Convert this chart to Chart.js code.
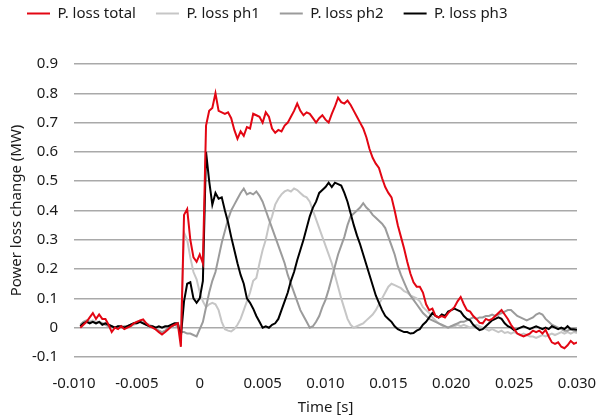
<!DOCTYPE html>
<html>
<head>
<meta charset="utf-8">
<script src="https://cdn.jsdelivr.net/npm/chart.js@4.4.1/dist/chart.umd.min.js"></script>
<style>
  html, body { margin: 0; padding: 0; background: #fff; }
  #wrap { width: 600px; height: 418px; }
</style>
</head>
<body>
<div id="wrap"><canvas id="lossChart" width="600" height="418"></canvas></div>
<script>
// sample grid: 0.25 ms steps from -9.5 ms to 30 ms
var tStart = -0.0095;
var tStep = 0.00025;

var seriesNames = ['P. loss total', 'P. loss ph1', 'P. loss ph2', 'P. loss ph3'];
var xTicks = [-0.010, -0.005, 0, 0.005, 0.010, 0.015, 0.020, 0.025, 0.030];
var yTicks = [-0.1, 0, 0.1, 0.2, 0.3, 0.4, 0.5, 0.6, 0.7, 0.8, 0.9];

// power loss change in MW, one row = 2 ms
var lossTotal = [
  0.00, 0.01, 0.02, 0.035, 0.05, 0.03, 0.045, 0.03,
  0.03, 0.01, -0.015, 0.0, -0.005, 0.005, -0.005, 0.0,
  0.005, 0.015, 0.02, 0.025, 0.028, 0.015, 0.005, 0.0,
  -0.006, -0.015, -0.023, -0.015, -0.005, 0.005, 0.01, 0.015,
  -0.065, 0.385, 0.405, 0.30, 0.24, 0.225, 0.25, 0.22,
  0.69, 0.74, 0.75, 0.80, 0.74, 0.735, 0.73, 0.735,
  0.715, 0.675, 0.645, 0.67, 0.655, 0.685, 0.68, 0.73,
  0.725, 0.72, 0.70, 0.735, 0.72, 0.68, 0.665, 0.675,
  0.67, 0.69, 0.70, 0.72, 0.74, 0.765, 0.74, 0.725,
  0.735, 0.73, 0.715, 0.70, 0.715, 0.725, 0.71, 0.70,
  0.73, 0.755, 0.785, 0.77, 0.765, 0.775, 0.76, 0.74,
  0.72, 0.70, 0.68, 0.65, 0.61, 0.58, 0.56, 0.545,
  0.51, 0.48, 0.46, 0.445, 0.40, 0.35, 0.31, 0.27,
  0.225, 0.185, 0.155, 0.14, 0.14, 0.12, 0.08, 0.06,
  0.065, 0.04, 0.035, 0.04, 0.035, 0.05, 0.06, 0.07,
  0.09, 0.105, 0.08, 0.06, 0.055, 0.04, 0.03, 0.017,
  0.015, 0.03, 0.025, 0.03, 0.04, 0.05, 0.06, 0.045,
  0.03, 0.01, -0.005, -0.02, -0.025, -0.03, -0.025, -0.02,
  -0.01, -0.015, -0.01, -0.02, -0.007, -0.03, -0.05, -0.055,
  -0.05, -0.065, -0.07, -0.06, -0.045, -0.055, -0.05
];

var lossPh1 = [
  0.005, 0.015, 0.02, 0.02, 0.025, 0.02, 0.02, 0.015,
  0.015, 0.01, 0.005, 0.0, 0.0, 0.005, 0.0, 0.005,
  0.005, 0.01, 0.015, 0.02, 0.02, 0.015, 0.01, 0.005,
  -0.005, -0.01, -0.015, -0.01, 0.0, 0.005, 0.01, 0.01,
  0.005, 0.325, 0.30, 0.24, 0.19, 0.165, 0.12, 0.09,
  0.07, 0.08, 0.085, 0.08, 0.06, 0.02, -0.005, -0.01,
  -0.013, -0.005, 0.01, 0.03, 0.06, 0.09, 0.12, 0.16,
  0.17, 0.22, 0.265, 0.30, 0.35, 0.38, 0.42, 0.44,
  0.455, 0.465, 0.47, 0.465, 0.475, 0.47, 0.46, 0.45,
  0.445, 0.43, 0.40, 0.37, 0.34, 0.31, 0.28, 0.25,
  0.22, 0.18, 0.14, 0.10, 0.065, 0.03, 0.01, 0.0,
  0.005, 0.01, 0.015, 0.025, 0.035, 0.045, 0.06, 0.08,
  0.10, 0.12, 0.14, 0.15, 0.145, 0.14, 0.135, 0.125,
  0.12, 0.11, 0.105, 0.10, 0.09, 0.07, 0.06, 0.05,
  0.035, 0.025, 0.015, 0.008, 0.003, 0.0, 0.005, 0.005,
  0.01, 0.005, 0.01, 0.005, 0.0, 0.005, 0.01, 0.005,
  0.0, -0.005, -0.01, -0.005, -0.01, -0.015, -0.01, -0.018,
  -0.015, -0.02, -0.015, -0.02, -0.025, -0.02, -0.025, -0.03,
  -0.03, -0.035, -0.03, -0.025, -0.03, -0.025, -0.02, -0.025,
  -0.02, -0.015, -0.02, -0.015, -0.02, -0.015, -0.018
];

var lossPh2 = [
  0.01, 0.02, 0.025, 0.02, 0.02, 0.015, 0.02, 0.015,
  0.01, 0.005, 0.005, 0.0, 0.005, 0.0, 0.005, 0.005,
  0.01, 0.015, 0.02, 0.02, 0.015, 0.01, 0.005, 0.0,
  -0.005, -0.01, -0.015, -0.01, 0.0, 0.005, 0.01, 0.005,
  -0.015, -0.015, -0.02, -0.02, -0.025, -0.03, -0.005, 0.02,
  0.07, 0.12, 0.16, 0.19, 0.24, 0.29, 0.33, 0.37,
  0.40, 0.42, 0.44, 0.46, 0.475, 0.455, 0.46, 0.455,
  0.465, 0.45, 0.43, 0.40, 0.37, 0.34, 0.31, 0.28,
  0.25, 0.22, 0.18, 0.15, 0.12, 0.09, 0.06, 0.04,
  0.02, 0.0, 0.005, 0.02, 0.04, 0.07, 0.095, 0.13,
  0.17, 0.21, 0.25, 0.28, 0.31, 0.35, 0.38, 0.39,
  0.40, 0.41, 0.425, 0.41, 0.40, 0.385, 0.375, 0.365,
  0.355, 0.34, 0.31, 0.28, 0.25, 0.21, 0.18, 0.155,
  0.13, 0.11, 0.095, 0.08, 0.065, 0.05, 0.04, 0.03,
  0.025, 0.02, 0.015, 0.01, 0.005, 0.0, 0.005, 0.01,
  0.015, 0.02, 0.02, 0.025, 0.03, 0.035, 0.03, 0.035,
  0.035, 0.04, 0.04, 0.045, 0.04, 0.045, 0.05, 0.055,
  0.06, 0.06, 0.05, 0.04, 0.035, 0.03, 0.025, 0.03,
  0.035, 0.045, 0.05, 0.045, 0.03, 0.02, 0.01, 0.005,
  0.0, -0.005, -0.01, -0.01, -0.005, -0.01, -0.012
];

var lossPh3 = [
  0.005, 0.015, 0.02, 0.015, 0.02, 0.015, 0.02, 0.01,
  0.015, 0.01, 0.005, 0.0, 0.005, 0.005, 0.0, 0.005,
  0.01, 0.015, 0.015, 0.02, 0.015, 0.01, 0.005, 0.005,
  0.0, 0.005, 0.0, 0.005, 0.005, 0.01, 0.015, 0.015,
  -0.03, 0.09, 0.15, 0.155, 0.10, 0.085, 0.10, 0.16,
  0.60, 0.50, 0.42, 0.46, 0.44, 0.445, 0.40, 0.36,
  0.31, 0.265, 0.22, 0.18, 0.15, 0.10, 0.085, 0.065,
  0.04, 0.02, 0.0, 0.005, 0.0, 0.01, 0.015, 0.03,
  0.06, 0.09, 0.12, 0.16, 0.19, 0.23, 0.265, 0.30,
  0.34, 0.38, 0.41, 0.43, 0.46, 0.47, 0.48, 0.495,
  0.48, 0.495, 0.49, 0.485, 0.46, 0.43, 0.39, 0.35,
  0.315, 0.285, 0.25, 0.215, 0.18, 0.145, 0.11, 0.085,
  0.06, 0.04, 0.03, 0.02, 0.005, -0.005, -0.01, -0.015,
  -0.015, -0.02, -0.018, -0.01, -0.005, 0.01, 0.02, 0.035,
  0.05, 0.04, 0.035, 0.045, 0.04, 0.055, 0.06, 0.065,
  0.06, 0.055, 0.04, 0.03, 0.025, 0.01, 0.0, -0.008,
  -0.005, 0.005, 0.015, 0.025, 0.03, 0.035, 0.03, 0.015,
  0.005, 0.0, -0.008, -0.005, 0.0, 0.005, 0.0, -0.005,
  0.0, 0.005, 0.0, -0.005, 0.0, -0.005, 0.005, 0.0,
  -0.005, 0.0, -0.005, 0.005, -0.005, -0.005, -0.007
];

var seriesColors = ['#e30613', '#c6c6c6', '#9b9b9b', '#000000'];
// lower order is drawn on top: total over ph3 over ph2 over ph1
var drawOrder = [0, 3, 2, 1];

function toPoints(values) {
  return values.map(function(v, i) {
    return { x: tStart + i * tStep, y: v };
  });
}

function fmt(v, digits) {
  if (Math.abs(v) < 1e-9) return '0';
  return v.toFixed(digits);
}

function makeDataset(i, values) {
  return {
    label: seriesNames[i],
    data: toPoints(values),
    borderColor: seriesColors[i],
    backgroundColor: seriesColors[i],
    pointBorderColor: seriesColors[i],
    pointBackgroundColor: seriesColors[i],
    pointBorderWidth: 2,
    pointRadius: 0,
    borderWidth: 2,
    order: drawOrder[i]
  };
}

var fontFamily = '"Noto Sans", "Open Sans", sans-serif';
var textColor = '#1a1a1a';
var gridColor = '#a9a9a9';

// legend is forced to a fixed band above the plot and nudged into place
var legendBand = {
  id: 'legendBand',
  beforeInit: function(chart) {
    var origFit = chart.legend.fit;
    chart.legend.fit = function() {
      origFit.bind(chart.legend)();
      this.height = 64;
    };
  },
  afterLayout: function(chart) {
    chart.legend.left += 7;
    chart.legend.right += 7;
    chart.legend.top -= 14;
  }
};

var ctx = document.getElementById('lossChart').getContext('2d');
var lossChart = new Chart(ctx, {
  type: 'line',
  data: {
    datasets: [
      makeDataset(0, lossTotal),
      makeDataset(1, lossPh1),
      makeDataset(2, lossPh2),
      makeDataset(3, lossPh3)
    ]
  },
  options: {
    responsive: false,
    animation: false,
    events: [],
    layout: { padding: { left: 0, right: 23, top: 0, bottom: 0 } },
    elements: {
      line: { tension: 0 }
    },
    plugins: {
      tooltip: { enabled: false },
      legend: {
        position: 'top',
        align: 'start',
        labels: {
          usePointStyle: true,
          pointStyle: 'line',
          pointStyleWidth: 23,
          padding: 20,
          color: textColor,
          font: { family: fontFamily, size: 15 },
          sort: function(a, b) { return a.datasetIndex - b.datasetIndex; }
        }
      }
    },
    scales: {
      x: {
        type: 'linear',
        min: xTicks[0],
        max: xTicks[xTicks.length - 1],
        afterBuildTicks: function(scale) {
          scale.ticks = xTicks.map(function(v) { return { value: v }; });
        },
        afterFit: function(scale) {
          scale.height = 61;
          // keep the plot edge fixed; the last label may overhang into the padding
          scale.paddingLeft = 0;
          scale.paddingRight = 0;
        },
        grid: { display: false, drawTicks: false },
        border: { display: false },
        ticks: {
          padding: 18,
          maxRotation: 0,
          autoSkip: false,
          color: textColor,
          font: { family: fontFamily, size: 15 },
          callback: function(v) { return fmt(v, 3); }
        },
        title: {
          display: true,
          text: 'Time [s]',
          color: textColor,
          font: { family: fontFamily, size: 15 },
          padding: { top: 0, bottom: 1 }
        }
      },
      y: {
        min: yTicks[0],
        max: yTicks[yTicks.length - 1],
        afterBuildTicks: function(scale) {
          scale.ticks = yTicks.map(function(v) { return { value: v }; });
        },
        afterFit: function(scale) { scale.width = 74; },
        grid: { color: gridColor, lineWidth: 1.5, drawTicks: false },
        border: { display: false },
        ticks: {
          padding: 16,
          color: textColor,
          font: { family: fontFamily, size: 15 },
          callback: function(v) { return fmt(v, 1); }
        },
        title: {
          display: true,
          text: 'Power loss change (MW)',
          color: textColor,
          font: { family: fontFamily, size: 15 },
          padding: { top: 8, bottom: 0 }
        }
      }
    }
  },
  plugins: [legendBand]
});
</script>
</body>
</html>
